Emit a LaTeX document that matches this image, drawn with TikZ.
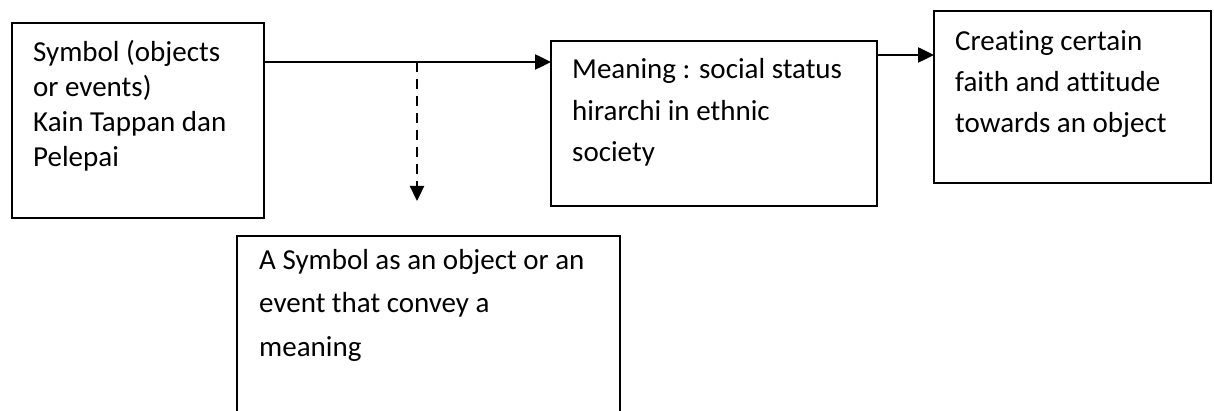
\documentclass[tikz,border=0pt]{standalone}
\usepackage{fontspec}
\setmainfont{Carlito}[RawFeature={-liga;-clig;-dlig}]
\usetikzlibrary{arrows.meta}
\newcommand\txtlines[2]{\vtop{\baselineskip=#1\lineskiplimit=-100pt\relax #2}}
\begin{document}
\begin{tikzpicture}[x=1pt,y=-1pt,
  box/.style={draw=black, line width=1.6pt, anchor=north west, inner sep=0pt, outer sep=0pt},
  txt/.style={anchor=base west, inner sep=0pt, font=\fontsize{29}{35}\selectfont},
  arr/.style={line width=2.5pt, -{Triangle[length=16pt,width=15pt]}},
  darr/.style={line width=2.3pt, dash pattern=on 10pt off 7pt, -{Triangle[length=15pt,width=14pt]}}]
\useasboundingbox (0,0) rectangle (1214,411);
\clip (0,0) rectangle (1214,411);
\fill[white] (0,0) rectangle (1214,411);
% boxes
\node[box, minimum width=252pt, minimum height=195pt] (sym) at (12,23) {};
\node[box, minimum width=326pt, minimum height=165pt] (mean) at (551,41) {};
\node[box, minimum width=277pt, minimum height=172pt] (faith) at (934,11) {};
\node[box, minimum width=383pt, minimum height=240pt] (conv) at (237,236) {};
% texts
\node[txt] (symt) at (33,62) {\txtlines{35pt}{\hbox{Symbol (objects}\hbox{or events)}\hbox{Kain Tappan dan}\hbox{Pelepai}}};
\node[txt] (meant) at (572,79) {\txtlines{41.5pt}{\hbox{Meaning : social status}\hbox{hirarchi in ethnic}\hbox{society}}};
\node[txt] (faitht) at (955,51) {\txtlines{41pt}{\hbox{Creating certain}\hbox{faith and attitude}\hbox{towards an object}}};
\node[txt] (convt) at (259,270) {\txtlines{43pt}{\hbox{A Symbol as an object or an}\hbox{event that convey a}\hbox{meaning}}};
% connectors
\coordinate (split) at (417,62);
\coordinate (dend) at (417,201);
\coordinate (lvl) at (900,55);
\draw[arr] (sym.east |- split) -- (mean.west |- split);
\draw[darr] (split) -- (dend);
\draw[arr] (mean.east |- lvl) -- (faith.west |- lvl);
\end{tikzpicture}
\end{document}
